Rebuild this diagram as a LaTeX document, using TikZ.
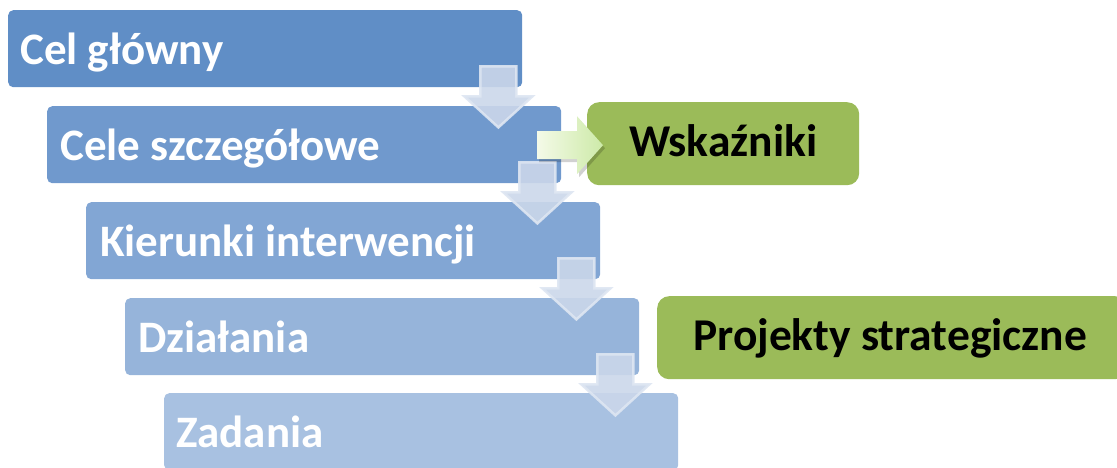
\documentclass[tikz,border=0pt]{standalone}
\usepackage{fontspec}
\setmainfont{Carlito}
\definecolor{bA}{RGB}{96,142,198}
\definecolor{bB}{RGB}{112,153,205}
\definecolor{bC}{RGB}{130,166,212}
\definecolor{bD}{RGB}{150,180,218}
\definecolor{bE}{RGB}{168,193,225}
\definecolor{gbox}{RGB}{155,187,89}
\definecolor{arrL}{RGB}{244,250,232}
\definecolor{arrR}{RGB}{205,234,168}
\definecolor{darrF}{RGB}{203,215,234}
\definecolor{darrD}{RGB}{222,230,242}
\begin{document}
\begin{tikzpicture}[x=1pt,y=-1pt,
  bluebox/.style={draw=none, rounded corners=5pt, minimum width=514pt, minimum height=77pt, anchor=north west, inner sep=0pt},
  greenbox/.style={draw=none, fill=gbox, rounded corners=12pt, minimum height=83pt, anchor=north west, inner sep=0pt},
  bluetext/.style={text=white, font=\bfseries\fontsize{45}{50}\selectfont, inner sep=0pt, anchor=base west},
  greentext/.style={text=black, font=\bfseries\fontsize{45.5}{50}\selectfont, inner sep=0pt, anchor=base},
  downarr/.style={fill=darrF, fill opacity=0.9, draw=darrD, draw opacity=0.9, line width=2.5pt, line join=miter},
  rightarr/.style={left color=arrL, right color=arrR, draw=none},
  arrshadow/.style={fill=black, fill opacity=0.18, draw=none}
]
\useasboundingbox (0,0) rectangle (1117,468);
\clip (0,0) rectangle (1117,468);
% blue boxes
\node[bluebox, fill=bA] (b1) at (8,10) {};
\node[bluebox, fill=bB] (b2) at (47,106) {};
\node[bluebox, fill=bC] (b3) at (86,202) {};
\node[bluebox, fill=bD] (b4) at (125,298) {};
\node[bluebox, fill=bE] (b5) at (164,393) {};
% green boxes
\node[greenbox, minimum width=272pt] (g1) at (587,102) {};
\node[greenbox, minimum width=470pt] (g2) at (657,296) {};
% texts
\node[bluetext] (t1) at ([xshift=12pt,yshift=-15.5pt]b1.west) {Cel główny};
\node[bluetext] (t2) at ([xshift=13pt,yshift=-15.5pt]b2.west) {Cele szczegółowe};
\node[bluetext] (t3) at ([xshift=14pt,yshift=-15.5pt]b3.west) {Kierunki interwencji};
\node[bluetext] (t4) at ([xshift=13pt,yshift=-15.5pt]b4.west) {Działania};
\node[bluetext] (t5) at ([xshift=12pt,yshift=-15.5pt]b5.west) {Zadania};
\node[greentext] (tg1) at ([yshift=-13pt]g1.center) {Wskaźniki};
\node[greentext] (tg2) at ([xshift=-2pt,yshift=-13pt]g2.center) {Projekty strategiczne};
% down arrows
\coordinate (a1) at ([xshift=-24pt,yshift=-40pt]b1.south east);
\coordinate (a2) at ([xshift=-24pt,yshift=-40pt]b2.south east);
\coordinate (a3) at ([xshift=-24pt,yshift=-40pt]b3.south east);
\coordinate (a4) at ([xshift=-24pt,yshift=-40pt]b4.south east);
\foreach \a in {a1,a2,a3,a4}{
  \draw[downarr] (\a) -- ++(-34,-31) -- ++(16,0) -- ++(0,-30) -- ++(36,0) -- ++(0,30) -- ++(16,0) -- cycle;
}
% right arrow
\coordinate (ra) at ([xshift=16pt,yshift=-1.5pt]g1.west);
\fill[arrshadow] ([xshift=2pt,yshift=-3pt]ra) -- ++(-26,-29) -- ++(0,15) -- ++(-40,0) -- ++(0,28) -- ++(40,0) -- ++(0,15) -- cycle;
\path[rightarr] (ra) -- ++(-26,-29) -- ++(0,15) -- ++(-40,0) -- ++(0,28) -- ++(40,0) -- ++(0,15) -- cycle;
\end{tikzpicture}
\end{document}
